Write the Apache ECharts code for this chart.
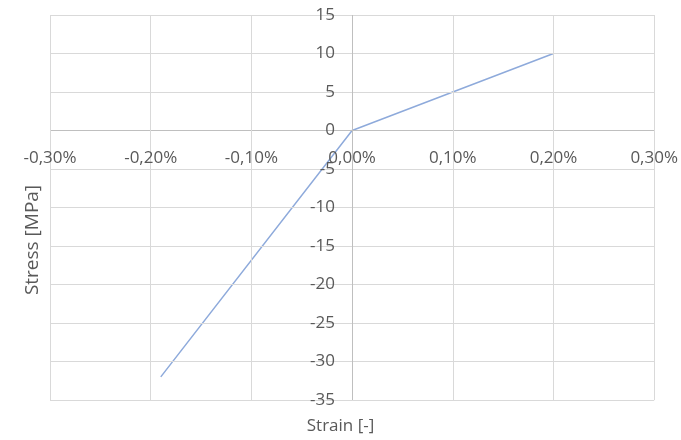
<!DOCTYPE html>
<html>
<head>
<meta charset="utf-8">
<script src="https://cdn.jsdelivr.net/npm/echarts@6/dist/echarts.min.js"></script>
<style>html,body{margin:0;padding:0;background:#fff}#c{width:681px;height:440px}</style>
</head>
<body>
<div id="c"></div>
<script>
const strain = [-0.0019, 0, 0.002];
const stress = [-32, 0, 10];
const xTitle = 'Strain [-]';
const yTitle = 'Stress [MPa]';

const FONT = '"Open Sans", sans-serif';
const TXT = '#595959';
const GRID = '#d9d9d9', AXIS = '#bfbfbf';
const G = {left: 50, right: 25, top: 15, bottom: 40};
const W = 681, H = 440;
const xMin = -0.003, xMax = 0.003, xStep = 0.001;
const yMin = -35, yMax = 15, yStep = 5;
// shift axes so they cross at zero (labels travel with them)
const plotW = W - G.left - G.right, plotH = H - G.top - G.bottom;
const yZeroFromBottom = (0 - yMin) / (yMax - yMin) * plotH;
const xZeroFromLeft = (0 - xMin) / (xMax - xMin) * plotW;
// split line colours: zero line slightly darker (acts as axis line)
const xLines = Math.round((xMax - xMin) / xStep) + 1;
const yLines = Math.round((yMax - yMin) / yStep) + 1;
const xCols = Array.from({length: xLines}, (_, i) => i === Math.round(-xMin / xStep) ? AXIS : GRID);
const yCols = Array.from({length: yLines}, (_, i) => i === Math.round(-yMin / yStep) ? AXIS : GRID);

const chart = echarts.init(document.getElementById('c'), null, {renderer: 'canvas'});
chart.setOption({
  animation: false,
  backgroundColor: '#fff',
  grid: Object.assign({containLabel: false}, G),
  xAxis: {
    type: 'value', min: xMin, max: xMax, interval: xStep,
    position: 'bottom', offset: -yZeroFromBottom,
    axisLine: {show: false, onZero: false},
    axisTick: {show: false},
    splitLine: {show: true, lineStyle: {color: xCols, width: 1}},
    axisLabel: {
      color: TXT, fontFamily: FONT, fontSize: 17, margin: 19,
      showMinLabel: true, showMaxLabel: true, hideOverlap: false,
      formatter: v => (v * 100).toFixed(2).replace('.', ',') + '%'
    },
    z: 3
  },
  yAxis: {
    type: 'value', min: yMin, max: yMax, interval: yStep,
    position: 'left', offset: -xZeroFromLeft,
    axisLine: {show: false, onZero: false},
    axisTick: {show: false},
    splitLine: {show: true, lineStyle: {color: yCols, width: 1}},
    axisLabel: {color: TXT, fontFamily: FONT, fontSize: 17, margin: 18,
      showMinLabel: true, showMaxLabel: true},
    z: 3
  },
  graphic: [
    {type: 'text', left: 'center', top: 418, style: {text: xTitle, fill: TXT, font: '17px ' + FONT}},
    {type: 'text', x: 33, y: 240, rotation: Math.PI / 2,
      style: {text: yTitle, fill: TXT, font: '19px ' + FONT, align: 'center', verticalAlign: 'middle'}}
  ],
  series: [{
    type: 'line',
    data: strain.map((x, i) => [x, stress[i]]),
    showSymbol: false, symbol: 'none',
    lineStyle: {color: '#8eaadb', width: 1.5},
    z: 1
  }]
});
</script>
</body>
</html>
